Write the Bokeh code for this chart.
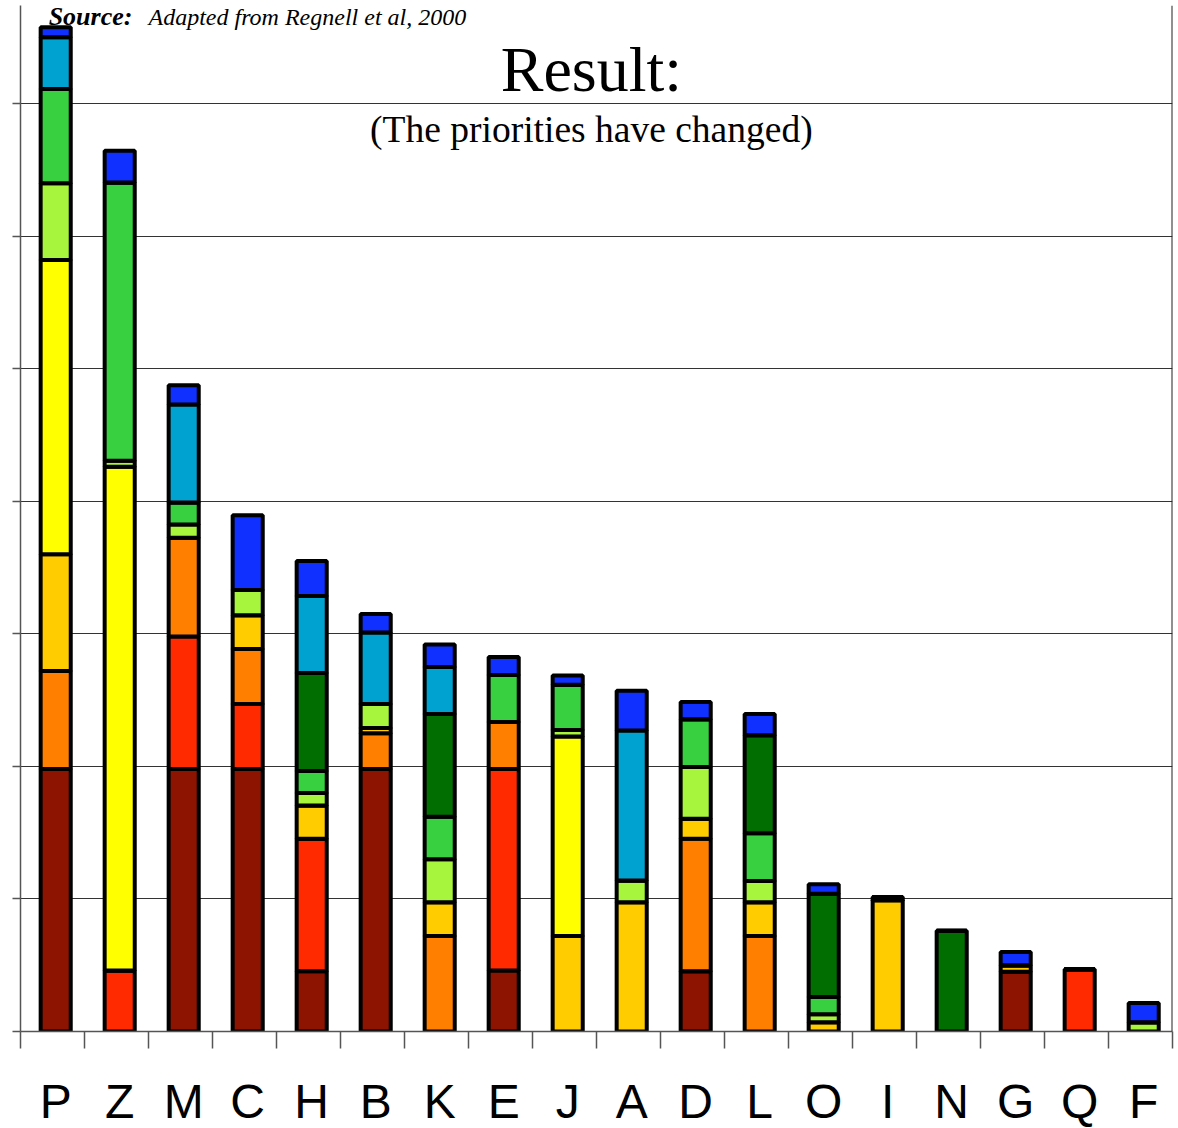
from bokeh.plotting import figure
from bokeh.models import ColumnDataSource, FixedTicker, Label, Span, Range1d
from bokeh.embed import file_html
from bokeh.resources import INLINE

categories = ["P", "Z", "M", "C", "H", "B", "K", "E", "J", "A", "D", "L", "O", "I", "N", "G", "Q", "F"]

dark_red    = [1.98, 0.00, 1.98, 1.98, 0.455, 1.98, 0.00, 0.46, 0.00, 0.00, 0.455, 0.00, 0.00, 0.00, 0.00, 0.45, 0.00, 0.00]
red         = [0.00, 0.46, 1.00, 0.49, 1.00, 0.00, 0.00, 1.52, 0.00, 0.00, 0.00, 0.00, 0.00, 0.00, 0.00, 0.00, 0.47, 0.00]
orange      = [0.74, 0.00, 0.745, 0.415, 0.00, 0.27, 0.72, 0.355, 0.00, 0.00, 1.00, 0.72, 0.00, 0.00, 0.00, 0.00, 0.00, 0.00]
gold        = [0.88, 0.00, 0.00, 0.255, 0.25, 0.04, 0.255, 0.00, 0.72, 0.975, 0.15, 0.255, 0.07, 0.99, 0.00, 0.05, 0.00, 0.00]
yellow      = [2.22, 3.80, 0.00, 0.00, 0.00, 0.00, 0.00, 0.00, 1.505, 0.00, 0.00, 0.00, 0.00, 0.00, 0.00, 0.00, 0.00, 0.00]
light_green = [0.58, 0.045, 0.10, 0.19, 0.095, 0.18, 0.325, 0.00, 0.05, 0.165, 0.39, 0.16, 0.06, 0.025, 0.00, 0.00, 0.00, 0.07]
green       = [0.71, 2.10, 0.165, 0.00, 0.165, 0.00, 0.32, 0.355, 0.34, 0.00, 0.36, 0.36, 0.13, 0.00, 0.00, 0.00, 0.00, 0.00]
dark_green  = [0.00, 0.00, 0.00, 0.00, 0.74, 0.00, 0.775, 0.00, 0.00, 0.00, 0.00, 0.74, 0.78, 0.00, 0.76, 0.00, 0.00, 0.00]
cyan        = [0.39, 0.00, 0.74, 0.00, 0.58, 0.54, 0.355, 0.00, 0.00, 1.13, 0.00, 0.00, 0.00, 0.00, 0.00, 0.00, 0.00, 0.00]
blue        = [0.075, 0.24, 0.145, 0.565, 0.265, 0.14, 0.17, 0.135, 0.07, 0.30, 0.13, 0.16, 0.07, 0.00, 0.00, 0.10, 0.00, 0.145]

series_names = ["dark_red", "red", "orange", "gold", "yellow", "light_green", "green", "dark_green", "cyan", "blue"]
series_values = [dark_red, red, orange, gold, yellow, light_green, green, dark_green, cyan, blue]
series_colors = ["#8C1400", "#FF2A00", "#FF7F00", "#FFCC00", "#FFFF00", "#A8F53D", "#38CF40", "#006E00", "#00A3D0", "#1030FF"]

y_ticks = [0, 1, 2, 3, 4, 5, 6, 7]
y_max = 7.74

title_text = "Result:"
subtitle_text = "(The priorities have changed)"
source_bold = "Source:"
source_rest = "Adapted from Regnell et al, 2000"

n = len(categories)
bar_offset = 0.05
x_pos = [i + 0.5 + bar_offset for i in range(n)]
data = {"x": x_pos}
for name, vals in zip(series_names, series_values):
    data[name] = vals
src = ColumnDataSource(data)

p = figure(frame_width=1152, frame_height=1026,
           x_range=Range1d(0, n), y_range=Range1d(0, y_max),
           output_backend="svg", toolbar_location=None,
           min_border_left=20, min_border_right=6, min_border_top=5, min_border_bottom=0)
p.outline_line_color = None
p.background_fill_color = "white"

p.vbar_stack(series_names, x="x", width=0.47, source=src,
             fill_color=series_colors, line_color="black", line_width=4)

# x axis: letters at bar centres, ticks at category boundaries
p.xaxis.ticker = FixedTicker(ticks=x_pos, minor_ticks=list(range(n + 1)))
p.xaxis.major_label_overrides = {x: c for x, c in zip(x_pos, categories)}
p.xaxis.major_tick_out = 0
p.xaxis.major_tick_in = 0
p.xaxis.minor_tick_out = 17
p.xaxis.minor_tick_in = 0
p.xaxis.minor_tick_line_color = "#555555"
p.xaxis.minor_tick_line_width = 1.5
p.xaxis.axis_line_color = "#555555"
p.xaxis.axis_line_width = 1.5
p.xaxis.major_label_text_font = "Liberation Sans"
p.xaxis.major_label_text_font_size = "48px"
p.xaxis.major_label_text_color = "black"
p.xaxis.major_label_standoff = 26

# y axis: no labels, outward ticks
p.yaxis.ticker = FixedTicker(ticks=y_ticks)
p.yaxis.major_label_overrides = {t: "" for t in y_ticks}
p.yaxis.major_tick_out = 8
p.yaxis.major_tick_in = 0
p.yaxis.major_tick_line_color = "#555555"
p.yaxis.major_tick_line_width = 1.5
p.yaxis.minor_tick_line_color = None
p.yaxis.axis_line_color = "#555555"
p.yaxis.axis_line_width = 1.5
p.yaxis.major_label_standoff = 0

p.xgrid.visible = False
p.ygrid.ticker = FixedTicker(ticks=y_ticks[1:])
p.ygrid.grid_line_color = "#333333"
p.ygrid.grid_line_width = 1

p.add_layout(Span(location=n, dimension="height", line_color="#222222", line_width=2))

p.add_layout(Label(x=8.92, y=7.256, text=title_text, text_align="center", text_baseline="alphabetic",
                   text_font="Liberation Serif", text_font_size="64px", text_color="black"))
p.add_layout(Label(x=8.92, y=6.804, text=subtitle_text, text_align="center", text_baseline="alphabetic",
                   text_font="Liberation Serif", text_font_size="37.5px", text_color="black"))
p.add_layout(Label(x=0.44, y=7.655, text=source_bold, text_align="left", text_baseline="alphabetic",
                   text_font="Liberation Serif", text_font_style="bold italic", text_font_size="26px", text_color="black"))
p.add_layout(Label(x=2.0, y=7.655, text=source_rest, text_align="left", text_baseline="alphabetic",
                   text_font="Liberation Serif", text_font_style="italic", text_font_size="24px", text_color="black"))

open("out.html", "w").write(file_html(p, INLINE))
